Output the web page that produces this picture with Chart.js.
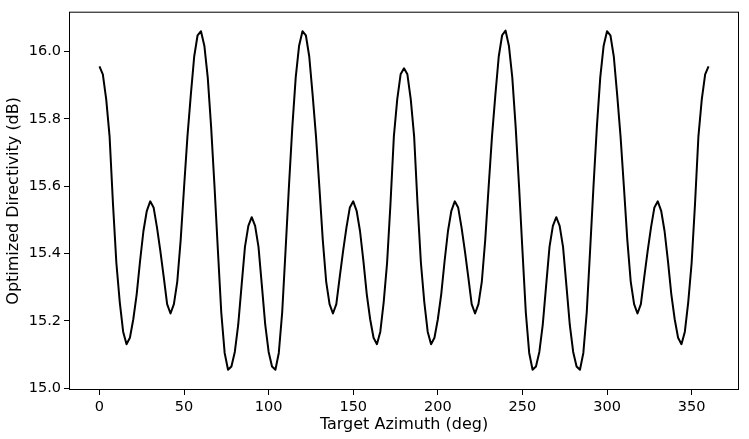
<!DOCTYPE html>
<html>
<head>
<meta charset="utf-8">
<script src="https://cdn.jsdelivr.net/npm/chart.js@4.4.1/dist/chart.umd.min.js"></script>
<style>
  body { margin: 0; background: #fff; }
  #wrap { width: 749px; height: 439px; }
</style>
</head>
<body>
<div id="wrap"><canvas id="dirChart" width="749" height="439"></canvas></div>
<script>
// Target azimuth (deg), one sample every 2 degrees from 0 to 360
const azimuth = [];
for (let a = 0; a <= 360; a += 2) azimuth.push(a);

// Optimized directivity (dB) (10 values per row = 20 deg)
const directivity = [
    15.956, 15.932, 15.858, 15.747, 15.547, 15.372, 15.256, 15.168, 15.131, 15.150,
    15.205, 15.279, 15.378, 15.467, 15.527, 15.555, 15.537, 15.478, 15.407, 15.330,
    15.250, 15.222, 15.250, 15.317, 15.440, 15.596, 15.747, 15.871, 15.985, 16.048,
    16.060, 16.017, 15.923, 15.776, 15.600, 15.410, 15.225, 15.105, 15.055, 15.065,
    15.108, 15.188, 15.305, 15.420, 15.482, 15.508, 15.482, 15.420, 15.305, 15.188,
    15.108, 15.065, 15.055, 15.105, 15.225, 15.410, 15.600, 15.776, 15.923, 16.017,
    16.060, 16.048, 15.985, 15.871, 15.747, 15.596, 15.440, 15.317, 15.250, 15.222,
    15.250, 15.330, 15.407, 15.478, 15.537, 15.555, 15.527, 15.467, 15.378, 15.279,
    15.205, 15.150, 15.131, 15.168, 15.256, 15.372, 15.547, 15.747, 15.858, 15.932,
    15.950, 15.932, 15.858, 15.747, 15.547, 15.372, 15.256, 15.168, 15.131, 15.150,
    15.205, 15.279, 15.378, 15.467, 15.527, 15.555, 15.537, 15.478, 15.407, 15.330,
    15.250, 15.222, 15.250, 15.317, 15.440, 15.596, 15.747, 15.871, 15.985, 16.048,
    16.062, 16.017, 15.923, 15.776, 15.600, 15.410, 15.225, 15.105, 15.055, 15.065,
    15.108, 15.188, 15.305, 15.420, 15.482, 15.508, 15.482, 15.420, 15.305, 15.188,
    15.108, 15.065, 15.055, 15.105, 15.225, 15.410, 15.600, 15.776, 15.923, 16.017,
    16.060, 16.048, 15.985, 15.871, 15.747, 15.596, 15.440, 15.317, 15.250, 15.222,
    15.250, 15.330, 15.407, 15.478, 15.537, 15.555, 15.527, 15.467, 15.378, 15.279,
    15.205, 15.150, 15.131, 15.168, 15.256, 15.372, 15.547, 15.747, 15.858, 15.932,
    15.956
];

const xTicks = [0, 50, 100, 150, 200, 250, 300, 350];
const yTicks = [15.0, 15.2, 15.4, 15.6, 15.8, 16.0];

Chart.defaults.font.family = '"DejaVu Sans", sans-serif';
Chart.defaults.color = '#000';

// Draw the four spines like a matplotlib axes box
const frameBox = {
    id: 'frameBox',
    afterDraw(chart) {
        const { ctx, chartArea: a } = chart;
        ctx.save();
        ctx.strokeStyle = '#000';
        ctx.lineWidth = 1;
        ctx.strokeRect(a.left + 0.5, a.top + 0.5, a.right - a.left - 1, a.bottom - a.top - 1);
        ctx.restore();
    }
};

const ctx = document.getElementById('dirChart').getContext('2d');
const dirChart = new Chart(ctx, {
    type: 'line',
    data: {
        datasets: [
            {
                data: azimuth.map((a, i) => ({ x: a, y: directivity[i] })),
                borderColor: '#000',
                borderWidth: 2,
                borderJoinStyle: 'round',
                pointRadius: 0,
                tension: 0,
                fill: false,
            },
        ],
    },
    options: {
        responsive: false,
        animation: false,
        events: [],
        layout: { padding: { left: 0, right: 10, top: 10, bottom: 0 } },
        plugins: {
            legend: { display: false },
            tooltip: { enabled: false },
        },
        scales: {
            x: {
                type: 'linear',
                min: -18,
                max: 378,
                afterBuildTicks: (scale) => { scale.ticks = xTicks.map(v => ({ value: v })); },
                afterFit: (scale) => { scale.height = 49; },
                grid: { drawOnChartArea: false, drawTicks: true, tickLength: 5, color: '#000' },
                border: { display: false },
                ticks: { font: { size: 14.5 }, padding: 4, maxRotation: 0, callback: (v) => String(v) },
                title: {
                    display: true,
                    text: 'Target Azimuth (deg)',
                    font: { size: 16 },
                    padding: { top: 0, bottom: 5 },
                },
            },
            y: {
                type: 'linear',
                min: 14.995,
                max: 16.118,
                afterBuildTicks: (scale) => { scale.ticks = yTicks.map(v => ({ value: v })); },
                afterFit: (scale) => { scale.width = 69; },
                grid: { drawOnChartArea: false, drawTicks: true, tickLength: 5, color: '#000' },
                border: { display: false },
                ticks: { font: { size: 14.5 }, padding: 3, callback: (v) => Number(v).toFixed(1) },
                title: {
                    display: true,
                    text: 'Optimized Directivity (dB)',
                    font: { size: 16 },
                    padding: { top: 4, bottom: 0 },
                },
            },
        },
    },
    plugins: [frameBox],
});
</script>
</body>
</html>
